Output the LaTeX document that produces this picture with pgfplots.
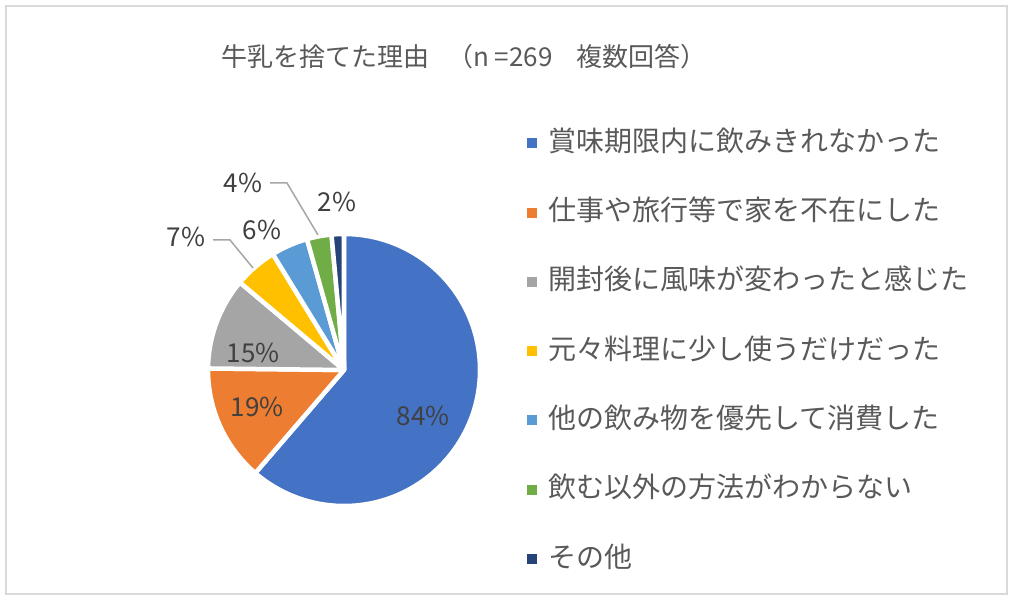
\documentclass[border=0pt]{standalone}
\usepackage{fontspec}
\setmainfont{Noto Sans CJK JP}
\usepackage{pgfplots}
\usepackage{pgfplotstable}
\pgfplotsset{compat=1.18}

\definecolor{pc0}{HTML}{4472C4}
\definecolor{pc1}{HTML}{ED7D31}
\definecolor{pc2}{HTML}{A5A5A5}
\definecolor{pc3}{HTML}{FFC000}
\definecolor{pc4}{HTML}{5B9BD5}
\definecolor{pc5}{HTML}{70AD47}
\definecolor{pc6}{HTML}{264478}
\definecolor{txt}{HTML}{595959}
\definecolor{lab}{HTML}{404040}
\definecolor{lead}{HTML}{A6A6A6}
\definecolor{frame}{HTML}{D9D9D9}

% percentages as printed on the chart (multiple answers, n=269)
\pgfplotstableread{
val lx ly
84 79 -46
19 -87 -37
15 -91 17
7 -158 133
6 -82 140
4 -101 187
2 -7 168
}\piedata

\begin{document}
\begin{tikzpicture}
% total and slice angles, clockwise from the top
\pgfplotstablegetrowsof{\piedata}
\pgfmathtruncatemacro\N{\pgfplotsretval-1}
\gdef\total{0}
\foreach \i in {0,...,\N}{%
  \pgfplotstablegetelem{\i}{val}\of\piedata
  \pgfmathsetmacro\t{\total+\pgfplotsretval}%
  \global\let\total\t}
\gdef\cur{90}
\foreach \i in {0,...,\N}{%
  \pgfplotstablegetelem{\i}{val}\of\piedata
  \pgfmathsetmacro\e{\cur-\pgfplotsretval/\total*360}%
  \expandafter\xdef\csname sa\i\endcsname{\cur}%
  \expandafter\xdef\csname ea\i\endcsname{\e}%
  \pgfplotstablegetelem{\i}{lx}\of\piedata
  \expandafter\xdef\csname lx\i\endcsname{\pgfplotsretval}%
  \pgfplotstablegetelem{\i}{ly}\of\piedata
  \expandafter\xdef\csname ly\i\endcsname{\pgfplotsretval}%
  \pgfplotstablegetelem{\i}{val}\of\piedata
  \expandafter\xdef\csname v\i\endcsname{\pgfplotsretval}%
  \global\let\cur\e}

\useasboundingbox (0,0) rectangle (1014bp,600bp);
\draw[frame, line width=2bp] (6bp,6bp) rectangle (1007bp,594bp);
\begin{scope}[every node/.style={text=txt, inner sep=0pt, anchor=base west,
    font=\fontsize{26bp}{30bp}\selectfont}]
\node at (221bp,533bp) {牛乳を捨てた理由\hspace{18bp}（n =269};
\node at (576bp,533bp) {複数回答）};
\end{scope}

\begin{axis}[
    at={(344bp,230bp)}, anchor=center,
    scale only axis,
    x=1bp, y=1bp,
    xmin=-135, xmax=135, ymin=-135, ymax=135,
    hide axis,
    clip=false,
    legend image code/.code={\fill[#1] (0bp,-5bp) rectangle (10bp,5bp);},
    legend cell align=left,
    legend style={at={(1.1778,1.3926)}, anchor=north west,
        draw=none, fill=none, inner sep=0pt,
        row sep=41.3bp, column sep=11bp,
        font=\fontsize{28bp}{34bp}\selectfont, text=txt,
        nodes={inner sep=0pt, text height=22bp, text depth=6bp}},
    legend entries={賞味期限内に飲みきれなかった,
        仕事や旅行等で家を不在にした,
        開封後に風味が変わったと感じた,
        元々料理に少し使うだけだった,
        他の飲み物を優先して消費した,
        飲む以外の方法がわからない,
        その他},
]
\pgfplotsinvokeforeach{0,...,6}{
  \addlegendimage{fill=pc#1, draw=none}
}
\pgfplotsinvokeforeach{0,...,6}{
  \fill[fill=pc#1, draw=white, line width=4.5bp, line join=round]
    (axis cs:0,0) -- ++({\csname sa#1\endcsname}:136bp)
    arc[start angle=\csname sa#1\endcsname, end angle=\csname ea#1\endcsname, radius=136bp]
    -- cycle;
}
\draw[lead, line width=1.5bp] (axis cs:-131,130) -- (axis cs:-114,130) -- (axis cs:-91,102);
\draw[lead, line width=1.5bp] (axis cs:-74,187) -- (axis cs:-57,187) -- (axis cs:-26,135);
\pgfplotsinvokeforeach{0,...,6}{
  \node[text=lab, font=\fontsize{26bp}{30bp}\selectfont]
    at (axis cs:\csname lx#1\endcsname,\csname ly#1\endcsname) {\csname v#1\endcsname\%};
}
\end{axis}
\end{tikzpicture}
\end{document}
